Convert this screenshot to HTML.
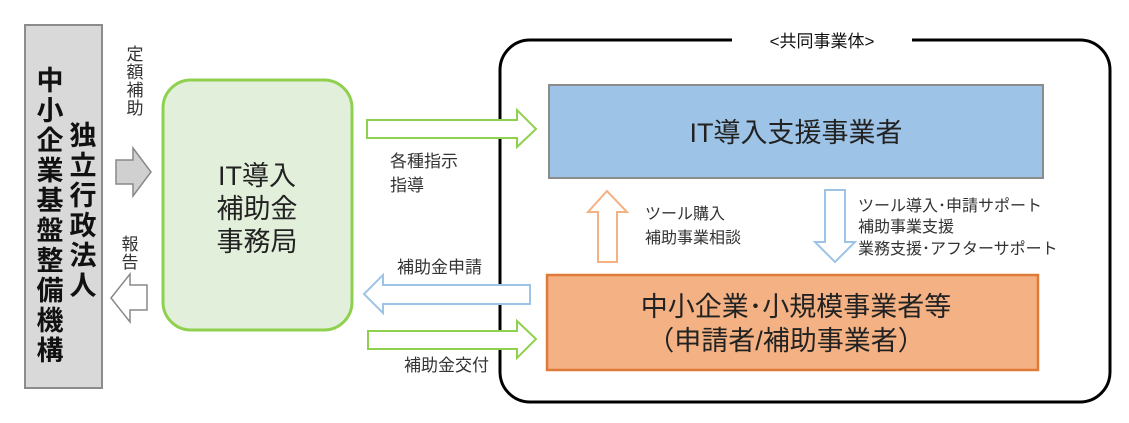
<!DOCTYPE html>
<html><head><meta charset="utf-8"><style>
html,body{margin:0;padding:0;background:#fff;}
svg{display:block;font-family:"Liberation Sans","Noto Sans CJK JP",sans-serif;}
</style></head><body>
<svg width="1129" height="423" viewBox="0 0 1129 423" xmlns="http://www.w3.org/2000/svg">
<rect x="25" y="25" width="77" height="363" fill="#d9d9d9" stroke="#8c8c8c" stroke-width="2"/>
<g font-size="27" font-weight="bold" fill="#111" text-anchor="middle">
<text x="50" y="90">中</text><text x="50" y="120">小</text><text x="50" y="150">企</text><text x="50" y="180">業</text><text x="50" y="210">基</text><text x="50" y="240">盤</text><text x="50" y="270">整</text><text x="50" y="300">備</text><text x="50" y="330">機</text><text x="50" y="360">構</text>
<text x="83" y="145">独</text><text x="83" y="175">立</text><text x="83" y="205">行</text><text x="83" y="235">政</text><text x="83" y="265">法</text><text x="83" y="295">人</text>
</g>
<g font-size="17" fill="#333" text-anchor="middle">
<text x="135" y="60">定</text><text x="135" y="78">額</text><text x="135" y="96">補</text><text x="135" y="114">助</text>
<text x="130" y="250">報</text><text x="130" y="268">告</text>
</g>
<polygon points="116,160 133,160 133,148 151,172 133,196 133,184 116,184" fill="#d0d0d0" stroke="#888" stroke-width="1.5"/>
<polygon points="147,285 130,285 130,274 111,298 130,322 130,310 147,310" fill="#fff" stroke="#888" stroke-width="1.5"/>
<rect x="163" y="80" width="189" height="250" rx="28" fill="#e2efda" stroke="#8fd14f" stroke-width="3"/>
<g font-size="27" fill="#222" text-anchor="middle">
<text x="257" y="185">IT導入</text><text x="257" y="218">補助金</text><text x="257" y="251">事務局</text>
</g>
<rect x="500" y="40" width="610" height="362" rx="30" fill="none" stroke="#000" stroke-width="3"/>
<rect x="732" y="30" width="180" height="20" fill="#fff"/>
<text x="822" y="47" font-size="17" fill="#111" text-anchor="middle">&lt;共同事業体&gt;</text>
<rect x="549" y="85" width="494" height="93" fill="#9dc3e6" stroke="#8c8c8c" stroke-width="2"/>
<text x="796" y="142" font-size="27" fill="#222" text-anchor="middle">IT導入支援事業者</text>
<rect x="547" y="275" width="491" height="95" fill="#f4b183" stroke="#e07a38" stroke-width="2.5"/>
<g font-size="27" fill="#222" text-anchor="middle">
<text x="796" y="316">中小企業･小規模事業者等</text>
<text x="786" y="350">（申請者/補助事業者）</text>
</g>
<polygon points="367,120 517,120 517,110 536,129 517,147 517,138 367,138" fill="#fff" stroke="#8fd14f" stroke-width="2"/>
<polygon points="368,331 517,331 517,321 536,339 517,358 517,349 368,349" fill="#fff" stroke="#8fd14f" stroke-width="2"/>
<polygon points="530,285 383,285 383,275 364,294 383,313 383,304 530,304" fill="#fff" stroke="#9dc3e6" stroke-width="2"/>
<g font-size="17" fill="#333">
<text x="390" y="167">各種指示</text><text x="390" y="191">指導</text>
<text x="397" y="273">補助金申請</text>
<text x="404" y="371">補助金交付</text>
</g>
<polygon points="598,262 598,212 588,212 607,191 627,212 617,212 617,262" fill="#fff" stroke="#f4b183" stroke-width="2"/>
<polygon points="825,190 845,190 845,242 855,242 835,262 815,242 825,242" fill="#fff" stroke="#9dc3e6" stroke-width="2"/>
<g font-size="16" fill="#333">
<text x="645" y="219">ツール購入</text><text x="645" y="243">補助事業相談</text>
<text x="858" y="211">ツール導入･申請サポート</text>
<text x="858" y="232">補助事業支援</text>
<text x="858" y="254">業務支援･アフターサポート</text>
</g>
</svg>
</body></html>
